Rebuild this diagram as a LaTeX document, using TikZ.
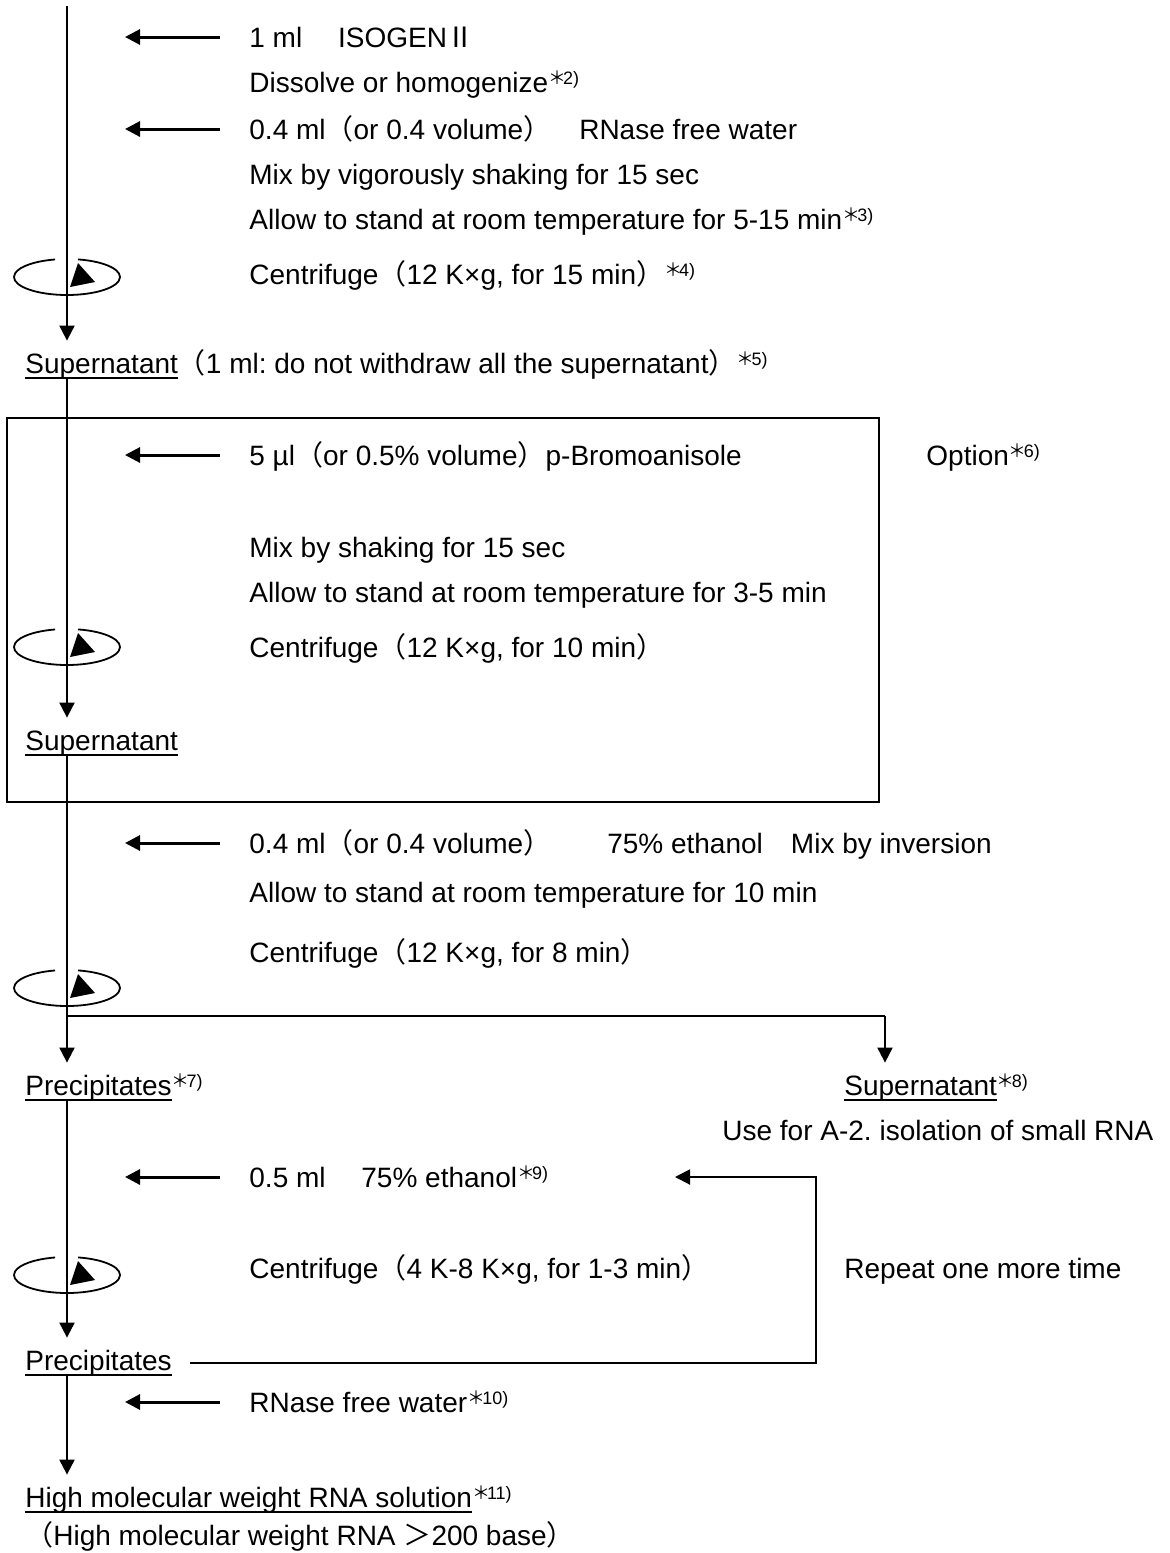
\documentclass[tikz,border=0pt]{standalone}
\usepackage{fontspec}
\setmainfont{Liberation Sans}
\newfontfamily\cjk{Noto Sans CJK JP}
\usetikzlibrary{arrows.meta}
\frenchspacing
\newcommand\refnote[1]{{\fontsize{9}{9}\selectfont\raisebox{4pt}{\cjk ＊}\hspace{-1.5pt}\raisebox{3.8pt}{#1)}}}
\newcommand\uword[1]{\leavevmode\setbox0=\hbox{#1}\rlap{\vrule height -2pt depth 3pt width \wd0}\box0}

\begin{document}
\begin{tikzpicture}[x=0.5pt,y=-0.5pt]
\tikzset{every node/.style={font=\fontsize{14}{17}\selectfont,inner sep=0pt,anchor=base west,text height=10pt}}
\tikzset{flow/.style={line width=1pt,-{Triangle[length=7.5pt,width=7.5pt]}}}
\tikzset{tostate/.style={flow,shorten >=6pt}}
\tikzset{addarrow/.style={line width=1.5pt,-{Triangle[length=7.5pt,width=7.5pt]}}}
\tikzset{spinner/.pic={
  \draw[line width=0.9pt] (-78:53 and 18) arc[start angle=-78,end angle=257,x radius=53,y radius=18];
  \fill (11,-14) -- (28,5) -- (3,10) -- cycle;}}

\useasboundingbox (0,0) rectangle (1170,1553);

\draw[line width=1pt] (7,418) rectangle (879,802);

\node (r1) at (249,47) {1 ml {\cjk 　}ISOGEN{\cjk Ⅱ}};
\node (r2) at (249,92) {Dissolve or homogenize\refnote{2}};
\node (r3) at (249,139) {0.4 ml{\cjk （}or 0.4 volume{\cjk ）　}RNase free water};
\node (r4) at (249,184) {Mix by vigorously shaking for 15 sec};
\node (r5) at (249,229) {Allow to stand at room temperature for 5-15 min\refnote{3}};
\node (r6) at (249,284) {Centrifuge{\cjk （}12 K×g, for 15 min{\cjk ）}\refnote{4}};
\node (sup1) at (25,373) {\uword{Supernatant}{\cjk （}1 ml: do not withdraw all the supernatant{\cjk ）}\refnote{5}};

\node (r7) at (249,465) {5 µl{\cjk （}or 0.5\% volume{\cjk ）}p-Bromoanisole};
\node (option) at (926,465) {Option\refnote{6}};
\node (r8) at (249,557) {Mix by shaking for 15 sec};
\node (r9) at (249,602) {Allow to stand at room temperature for 3-5 min};
\node (r10) at (249,657) {Centrifuge{\cjk （}12 K×g, for 10 min{\cjk ）}};
\node (sup2) at (25,750) {\uword{Supernatant}};

\node (r11) at (249,853) {0.4 ml{\cjk （}or 0.4 volume{\cjk ）　　}75\% ethanol{\cjk 　}Mix by inversion};
\node (r12) at (249,902) {Allow to stand at room temperature for 10 min};
\node (r13) at (249,962) {Centrifuge{\cjk （}12 K×g, for 8 min{\cjk ）}};
\node (prec1) at (25,1095) {\uword{Precipitates}\refnote{7}};
\node (sup3) at (844,1095) {\uword{Supernatant}\refnote{8}};
\node (use) at (722,1140) {Use for A-2. isolation of small RNA};

\node (r14) at (249,1187) {0.5 ml {\cjk 　}75\% ethanol\refnote{9}};
\node (r15) at (249,1278) {Centrifuge{\cjk （}4 K-8 K×g, for 1-3 min{\cjk ）}};
\node (repeat) at (844,1278) {Repeat one more time};
\node (prec2) at (25,1370) {\uword{Precipitates}};
\node (r16) at (249,1412) {RNase free water\refnote{10}};
\node (hmw) at (25,1507) {\uword{High molecular weight RNA solution}\refnote{11}};
\node (range) at (25,1545) {{\cjk （}High molecular weight RNA {\cjk ＞}200 base{\cjk ）}};

\coordinate (top) at (67,6);
\coordinate (split) at (67,1016);
\coordinate (splitend) at (885,1016);
\coordinate (loopturn) at (816,1177);
\coordinate (loopend) at (675,1177);

\foreach \y in {277,647,988,1275}
  \pic at (67,\y) {spinner};

\foreach \r in {r1,r3,r7,r11,r14,r16}
  \draw[addarrow] ([shift={(-29,-10)}]\r.base west) -- ++(-95,0);

\draw[tostate] (top) -- (top |- sup1.north);
\draw[tostate] (sup1.south -| top) -- (top |- sup2.north);
\draw[tostate] (sup2.south -| top) -- (top |- prec1.north);
\draw[line width=1pt] (split) -- (splitend);
\draw[tostate] (splitend) -- (splitend |- sup3.north);
\draw[tostate] (prec1.south -| top) -- (top |- prec2.north);
\draw[tostate] (prec2.south -| top) -- (top |- hmw.north);
\draw[flow,shorten <=9pt] (prec2.east) -| (loopturn) -- (loopend);

\end{tikzpicture}
\end{document}
